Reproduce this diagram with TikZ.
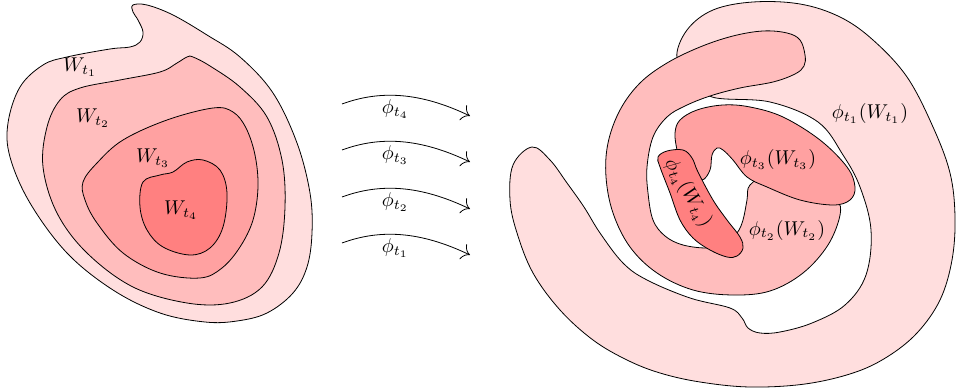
\documentclass[tikz,border=0pt]{standalone}
\usetikzlibrary{arrows.meta, positioning}
\colorlet{lvlone}{red!13}
\colorlet{lvltwo}{red!26}
\colorlet{lvlthree}{red!37}
\colorlet{lvlfour}{red!50}
\tikzset{
  region/.style={draw=black, thin}, % outline of every set
  blob/.style={smooth cycle, tension=0.6}, % freehand closed curve
  flow/.style={-{To[scale=1.6]}, thin}, % the maps between the two sides
  flowlabel/.style={below, inner sep=2pt}, % text under a map
}

\begin{document}
\begin{tikzpicture}[x=0.5pt, y=-0.5pt]
    \useasboundingbox (0,0) rectangle (956,389);

    % the nested sets on the left
    \path[region, fill=lvlone] plot[blob] coordinates {(133,5) (147,5) (173,15)
      (207,35) (240,57) (273,93) (297,143) (310,193) (312,233) (307,267)
      (293,293) (267,313) (237,321) (205,322) (160,313) (113,290) (67,253)
      (30,203) (10,157) (8,123) (20,87) (43,65) (67,57) (110,49) (130,47)
      (140,42) (143,32) (138,20) (133,12)};
    \path[region, fill=lvltwo] plot[blob] coordinates {(187,57) (193,57)
      (210,66) (240,87) (267,117) (282,160) (285,207) (279,253) (262,287)
      (230,303) (187,303) (133,287) (87,253) (57,213) (43,167)
      (47,127) (60,100) (80,88) (120,80) (160,72) (177,63)};
    \path[region, fill=lvlthree] plot[blob] coordinates {(83,182) (97,163)
      (123,140) (167,120) (213,108) (233,112) (246,128) (255,155) (258,187)
      (253,220) (240,247) (222,268) (200,278) (160,273) (123,253) (97,223)
      (85,200)};
    \path[region, fill=lvlfour] plot[blob] coordinates {(143,182) (160,175)
      (173,172) (187,162) (203,160) (220,170) (227,193) (223,227) (210,248)
      (190,255) (163,247) (147,230) (140,207)};

    \node (w_1) at (80,67) {$W_{t_1}$};
    \node (w_2) at (93,118) {$W_{t_2}$};
    \node (w_3) at (153,158) {$W_{t_3}$};
    \node (w_4) at (181,210) {$W_{t_4}$};

    % the maps
    \coordinate (src_4) at (342,104);
    \coordinate (dst_4) at (470,116);
    \coordinate (src_3) at (342,150);
    \coordinate (dst_3) at (470,162);
    \coordinate (src_2) at (342,197);
    \coordinate (dst_2) at (470,209);
    \coordinate (src_1) at (342,243);
    \coordinate (dst_1) at (470,255);

    \draw[flow] (src_4) .. controls +(38,-14) and +(-50,-24) .. (dst_4)
      node[flowlabel, pos=0.45] (map_4) {$\phi_{t_4}$};
    \draw[flow] (src_3) .. controls +(38,-14) and +(-50,-24) .. (dst_3)
      node[flowlabel, pos=0.45] (map_3) {$\phi_{t_3}$};
    \draw[flow] (src_2) .. controls +(38,-14) and +(-50,-24) .. (dst_2)
      node[flowlabel, pos=0.45] (map_2) {$\phi_{t_2}$};
    \draw[flow] (src_1) .. controls +(38,-14) and +(-50,-24) .. (dst_1)
      node[flowlabel, pos=0.45] (map_1) {$\phi_{t_1}$};

    % the images on the right
    \path[region, fill=lvlone] plot[blob] coordinates {(677,58) (687,30)
      (713,10) (753,2) (800,4) (840,17) (873,40) (907,77) (933,127)
      (950,173) (955,217) (952,260) (940,300) (917,333) (887,357) (853,373)
      (805,384) (750,387) (700,382) (660,373) (627,360) (593,340) (560,310)
      (533,273) (517,233) (510,200) (513,165) (532,147) (550,160) (567,183)
      (584,207) (600,233) (623,263) (647,280) (690,298) (730,308) (742,318)
      (748,328) (760,333) (780,332) (812,323) (845,305) (866,275)
      (871,230) (860,187) (843,155) (818,122) (770,102) (712,97) (695,78)};
    \path[region, fill=lvltwo] plot[blob] coordinates {(805,55) (800,40)
      (787,33) (763,31) (733,36) (700,47) (667,63) (640,83) (620,110)
      (608,143) (606,177) (613,213) (630,247) (657,273) (693,290) (733,295)
      (770,291) (803,273) (828,245) (840,215) (836,200) (810,188) (770,176)
      (750,185) (747,200) (743,220) (737,233) (725,244) (708,248) (683,245)
      (665,236) (653,220) (648,193) (647,167) (653,137) (667,117) (685,106)
      (710,96) (740,88) (773,82) (795,74) (804,66)};
    \path[region, fill=lvlthree] plot[blob] coordinates {(677,150) (675,133)
      (680,120) (697,110) (723,105) (750,107) (783,117) (820,140) (847,167)
      (855,187) (850,200) (833,205) (800,200) (767,187) (747,177) (733,160)
      (723,150) (717,148) (712,155) (710,170) (702,180) (690,172) (680,158)};
    \path[region, fill=lvlfour] plot[blob] coordinates {(658,157) (667,151)
      (683,150) (692,158) (698,172) (713,200) (727,220) (740,237) (743,248)
      (737,256) (727,257) (710,250) (693,238) (680,220) (670,193) (660,167)};

    \node (img_1) at (870,114) {$\phi_{t_1}(W_{t_1})$};
    \node (img_2) at (787,230) {$\phi_{t_2}(W_{t_2})$};
    \node (img_3) at (778,160) {$\phi_{t_3}(W_{t_3})$};
    \node[rotate=-60] (img_4) at (688,193) {$\phi_{t_4}(W_{t_4})$};
\end{tikzpicture}
\end{document}
